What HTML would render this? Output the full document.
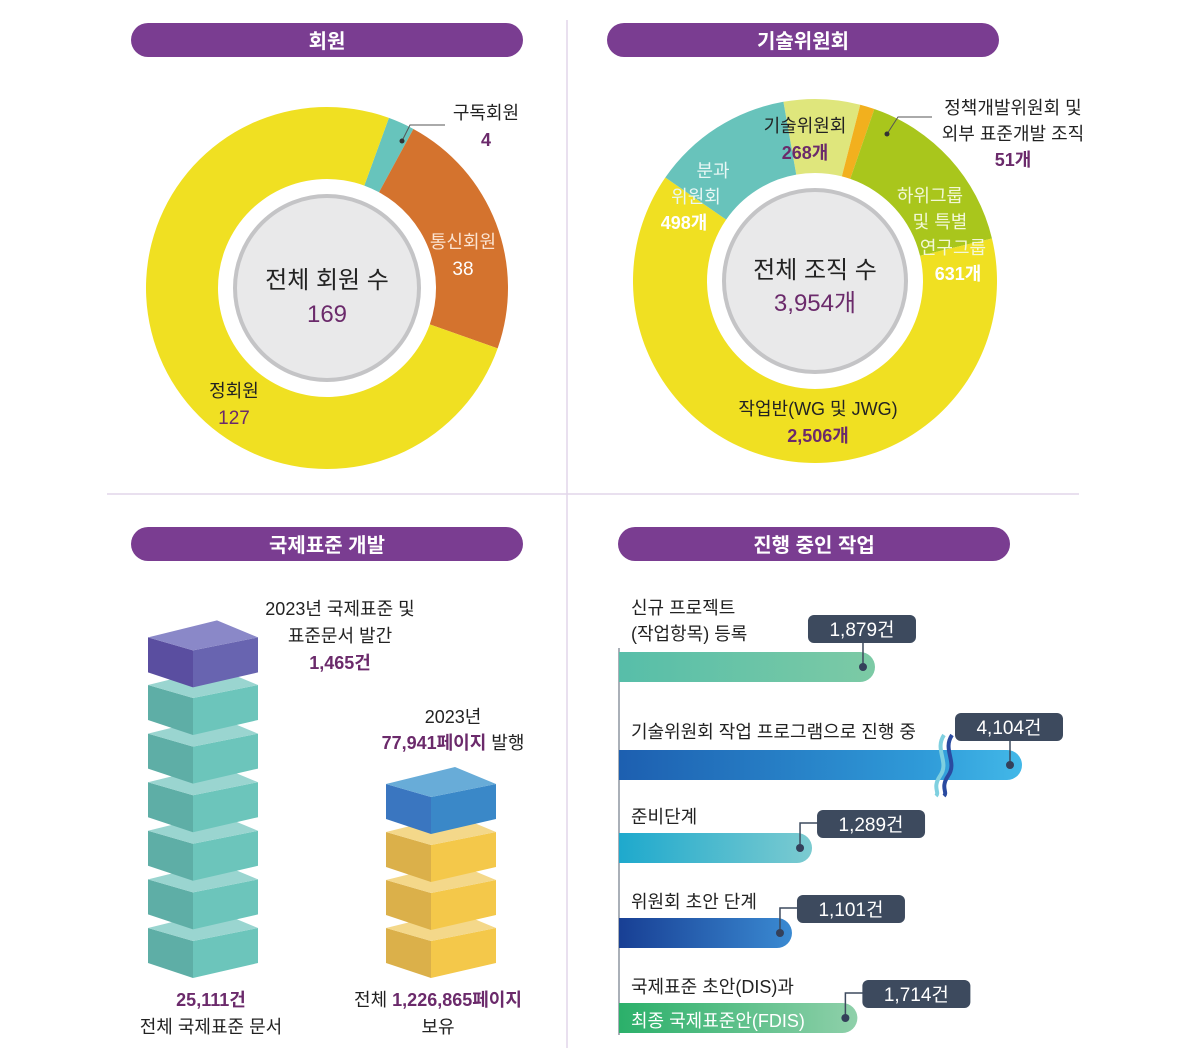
<!DOCTYPE html>
<html><head><meta charset="utf-8">
<style>
html,body{margin:0;padding:0;background:#fff;}
svg{display:block;font-family:"Liberation Sans","Noto Sans CJK KR",sans-serif;}
</style></head>
<body>
<svg id="s" width="1200" height="1061" viewBox="0 0 1200 1061" xmlns="http://www.w3.org/2000/svg">
<defs>
<linearGradient id="g1" x1="0" x2="1"><stop offset="0" stop-color="#57bea9"/><stop offset="1" stop-color="#7ccaa5"/></linearGradient>
<linearGradient id="g2" x1="0" x2="1"><stop offset="0" stop-color="#1d5fb0"/><stop offset="0.75" stop-color="#2f9ad8"/><stop offset="1" stop-color="#42b8e8"/></linearGradient>
<linearGradient id="g3" x1="0" x2="1"><stop offset="0" stop-color="#1ea9cd"/><stop offset="1" stop-color="#7ccbd0"/></linearGradient>
<linearGradient id="g4" x1="0" x2="1"><stop offset="0" stop-color="#183f94"/><stop offset="1" stop-color="#3a8ad2"/></linearGradient>
<linearGradient id="g5" x1="0" x2="1"><stop offset="0" stop-color="#2bb06a"/><stop offset="1" stop-color="#8fd0aa"/></linearGradient>
</defs>
<line x1="567" y1="20" x2="567" y2="1048" stroke="#e2d6ea" stroke-width="1.5"/>
<line x1="107" y1="494" x2="1079" y2="494" stroke="#e2d6ea" stroke-width="1.5"/>
<g><rect x="131" y="23" width="392" height="34" rx="17" fill="#7a3d91"/><text x="327" y="48" text-anchor="middle" fill="#fff" font-size="20" font-weight="bold">회원</text></g>
<g><rect x="607" y="23" width="392" height="34" rx="17" fill="#7a3d91"/><text x="803" y="48" text-anchor="middle" fill="#fff" font-size="20" font-weight="bold">기술위원회</text></g>
<g><rect x="131" y="527" width="392" height="34" rx="17" fill="#7a3d91"/><text x="327" y="552" text-anchor="middle" fill="#fff" font-size="20" font-weight="bold">국제표준 개발</text></g>
<g><rect x="618" y="527" width="392" height="34" rx="17" fill="#7a3d91"/><text x="814" y="552" text-anchor="middle" fill="#fff" font-size="20" font-weight="bold">진행 중인 작업</text></g>
<g id="d1"></g><g id="d2"></g><g id="cubes"></g><g id="bars"></g>
<g id="texts" font-size="18" fill="#222">
<polyline points="402,141 410,125 445,125" fill="none" stroke="#555" stroke-width="1"/>
<circle cx="402" cy="141" r="2.5" fill="#333"/>
<text x="486" y="119" text-anchor="middle">구독회원</text>
<text x="486" y="146" text-anchor="middle" fill="#6b2a6b" font-weight="bold">4</text>
<text x="463" y="248" text-anchor="middle" fill="#fbe3d0">통신회원</text>
<text x="463" y="275" text-anchor="middle" fill="#fff" font-size="19">38</text>
<text x="234" y="397" text-anchor="middle">정회원</text>
<text x="234" y="424" text-anchor="middle" fill="#6b2a6b" font-size="19">127</text>
<text x="327" y="288" text-anchor="middle" font-size="24">전체 회원 수</text>
<text x="327" y="322" text-anchor="middle" font-size="24" fill="#6b2a6b">169</text>
<polyline points="887,134 898,117 932,117" fill="none" stroke="#555" stroke-width="1"/>
<circle cx="887" cy="134" r="2.5" fill="#333"/>
<text x="805" y="132" text-anchor="middle">기술위원회</text>
<text x="805" y="159" text-anchor="middle" fill="#6b2a6b" font-weight="bold">268개</text>
<text x="713" y="177" text-anchor="middle" fill="#e8f7f5">분과</text>
<text x="696" y="203" text-anchor="middle" fill="#e8f7f5">위원회</text>
<text x="684" y="229" text-anchor="middle" fill="#fff" font-weight="bold">498개</text>
<text x="1013" y="114" text-anchor="middle">정책개발위원회 및</text>
<text x="1013" y="140" text-anchor="middle">외부 표준개발 조직</text>
<text x="1013" y="166" text-anchor="middle" fill="#6b2a6b" font-weight="bold">51개</text>
<text x="930" y="202" text-anchor="middle" fill="#f3f8d8">하위그룹</text>
<text x="940" y="228" text-anchor="middle" fill="#f3f8d8">및 특별</text>
<text x="953" y="254" text-anchor="middle" fill="#f3f8d8">연구그룹</text>
<text x="958" y="280" text-anchor="middle" fill="#fff" font-weight="bold">631개</text>
<text x="815" y="278" text-anchor="middle" font-size="24">전체 조직 수</text>
<text x="815" y="311" text-anchor="middle" font-size="24" fill="#6b2a6b">3,954개</text>
<text x="818" y="415" text-anchor="middle">작업반(WG 및 JWG)</text>
<text x="818" y="442" text-anchor="middle" fill="#6b2a6b" font-weight="bold">2,506개</text>
<text x="340" y="615" text-anchor="middle">2023년 국제표준 및</text>
<text x="340" y="642" text-anchor="middle">표준문서 발간</text>
<text x="340" y="669" text-anchor="middle" fill="#6b2a6b" font-weight="bold">1,465건</text>
<text x="453" y="723" text-anchor="middle">2023년</text>
<text x="453" y="749" text-anchor="middle"><tspan fill="#6b2a6b" font-weight="bold">77,941페이지</tspan> 발행</text>
<text x="211" y="1006" text-anchor="middle" fill="#6b2a6b" font-weight="bold">25,111건</text>
<text x="211" y="1033" text-anchor="middle">전체 국제표준 문서</text>
<text x="438" y="1006" text-anchor="middle">전체 <tspan fill="#6b2a6b" font-weight="bold">1,226,865페이지</tspan></text>
<text x="438" y="1033" text-anchor="middle">보유</text>
<text x="631" y="614">신규 프로젝트</text>
<text x="631" y="640">(작업항목) 등록</text>
<text x="631" y="738">기술위원회 작업 프로그램으로 진행 중</text>
<text x="631" y="823">준비단계</text>
<text x="631" y="908">위원회 초안 단계</text>
<text x="631" y="993">국제표준 초안(DIS)과</text>
</g>
</svg>
<script>
const NS="http://www.w3.org/2000/svg";
function mk(tag,attrs,parent){const e=document.createElementNS(NS,tag);for(const k in attrs)e.setAttribute(k,attrs[k]);parent.appendChild(e);return e;}
const memberCategories=["구독회원","통신회원","정회원"];
const memberValues=[4,38,127];
const orgCategories=["기술위원회","정책개발위원회 및 외부 표준개발 조직","하위그룹 및 특별 연구그룹","작업반","분과위원회"];
const orgValues=[268,51,631,2506,498];
const workCategories=["신규 프로젝트","기술위원회 작업 프로그램","준비단계","위원회 초안 단계","DIS/FDIS"];
const workValues=[1879,4104,1289,1101,1714];
const workLabels=["1,879건","4,104건","1,289건","1,101건","1,714건"];
const stackCounts=[6,3];

function pt(cx,cy,r,a){const t=a*Math.PI/180;return [cx+r*Math.sin(t),cy-r*Math.cos(t)];}
function donut(g,cx,cy,R,r,vals,colors,start,names){
  const tot=vals.reduce((a,b)=>a+b,0);let a=start;
  vals.forEach((v,i)=>{const sw=v/tot*360;const a2=a+sw;const lg=sw>180?1:0;
    const p1=pt(cx,cy,R,a),p2=pt(cx,cy,R,a2),p3=pt(cx,cy,r,a2),p4=pt(cx,cy,r,a);
    const p=mk('path',{d:`M${p1}A${R},${R} 0 ${lg} 1 ${p2}L${p3}A${r},${r} 0 ${lg} 0 ${p4}Z`,fill:colors[i]},g);
    
    
    a=a2;});
  const c=mk('circle',{cx:cx,cy:cy,r:r-17,fill:"#e9e9ea",stroke:"#c4c4c6","stroke-width":4},g);
  
  
}
donut(document.getElementById('d1'),327,288,181,109,memberValues,["#67c4bc","#d4732e","#f0e022"],20,["slice-subscriber","slice-correspondent","slice-full-member"]);
donut(document.getElementById('d2'),815,281,182,108,orgValues,["#dfe67c","#f2b01e","#a9c61c","#f0e022","#68c3bb"],-10,["slice-tc","slice-policy","slice-subgroups","slice-wg","slice-sc"]);

const cg=document.getElementById('cubes');
function cube(x,ap,cols,name){
  const g=mk('g',{},cg);
  
  
  mk('polygon',{points:`${x},${ap+17} ${x+45},${ap+30} ${x+45},${ap+67} ${x},${ap+52}`,fill:cols[1]},g);
  mk('polygon',{points:`${x+45},${ap+30} ${x+110},${ap+17} ${x+110},${ap+52} ${x+45},${ap+67}`,fill:cols[2]},g);
  mk('polygon',{points:`${x},${ap+17} ${x+69},${ap} ${x+110},${ap+17} ${x+45},${ap+30}`,fill:cols[0]},g);
}
const teal=["#9ad5d0","#5eaea6","#6cc5bb"],purp=["#8a88c8","#5a4ea0","#6864b0"],blue=["#68acd8","#3a76c0","#3a88c8"],yel=["#f4d88a","#dbb04a","#f4c84a"];
for(let i=0;i<stackCounts[0];i++)cube(148,911-i*48.6,teal,'stack-docs-cube');
cube(148,911-stackCounts[0]*48.6+1,purp,'stack-docs-new-cube');
for(let i=0;i<stackCounts[1];i++)cube(386,911-i*48,yel,'stack-pages-cube');
cube(386,911-stackCounts[1]*48,blue,'stack-pages-new-cube');

const bg=document.getElementById('bars');
const x0=619,maxW=403,barY=[652,750,833,918,1003];
const grads=["url(#g1)","url(#g2)","url(#g3)","url(#g4)","url(#g5)"];
function xs(v){return Math.min(55.5+0.1067*v,maxW);}
mk('line',{x1:x0,y1:648,x2:x0,y2:1035,stroke:"#aab0b8","stroke-width":2},bg);
workValues.forEach((v,i)=>{
  const w=xs(v),y=barY[i],e=x0+w;
  const b=mk('path',{d:`M${x0},${y}H${e-15}A15,15 0 0 1 ${e-15},${y+30}H${x0}Z`,fill:grads[i]},bg);
  
  
  const dx=e-12,dy=y+15;
  let px,py;
  if(i<2){py=y-37;px=dx-55;mk('line',{x1:dx,y1:py+20,x2:dx,y2:dy,stroke:"#3d4a5e","stroke-width":1.5},bg);}
  else{py=y-23;px=dx+17;mk('polyline',{points:`${dx},${dy} ${dx},${py+13} ${px+5},${py+13}`,fill:"none",stroke:"#3d4a5e","stroke-width":1.5},bg);}
  mk('circle',{cx:dx,cy:dy,r:4,fill:"#34405a"},bg);
  const pill=mk('rect',{x:px,y:py,width:108,height:28,rx:6,fill:"#3d4a5e"},bg);
  
  
  const t=mk('text',{x:px+54,y:py+21,"text-anchor":"middle",fill:"#fff","font-size":19},bg);
  t.textContent=workLabels[i];
  
  
  if(v>4000){
    mk('path',{d:`M944,735 C934,750 950,762 940,776 C932,788 940,792 936,796`,fill:"none",stroke:"#7fd0e0","stroke-width":4},bg);
    mk('path',{d:`M952,735 C942,750 958,762 948,776 C940,788 948,792 944,796`,fill:"none",stroke:"#2a4aa0","stroke-width":4},bg);
  }
});
const ft=mk('text',{x:631,y:1027,fill:"#fff","font-size":18},bg);
ft.textContent="최종 국제표준안(FDIS)";


</script>
</body></html>
